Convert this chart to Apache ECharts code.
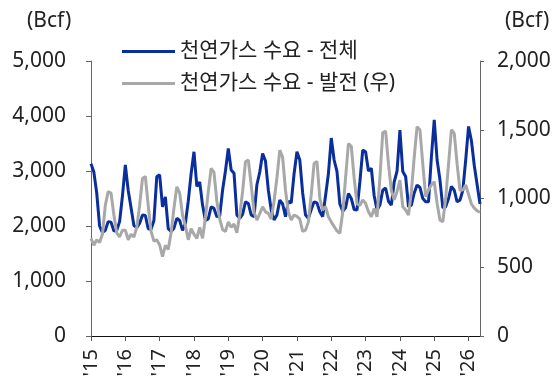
<!DOCTYPE html>
<html>
<head>
<meta charset="utf-8">
<script src="https://cdn.jsdelivr.net/npm/echarts@6/dist/echarts.min.js"></script>
<style>
  html, body { margin: 0; padding: 0; background: #fff; }
  #chart { width: 559px; height: 383px; }
</style>
</head>
<body>
<div id="chart"></div>
<script>
// Monthly U.S. natural gas consumption, Jan 2015 - May 2026 (Bcf)
const startYear = 2015;
const yearTicks = ["'15", "'16", "'17", "'18", "'19", "'20", "'21", "'22", "'23", "'24", "'25", "'26"];

// Total consumption (left axis)
const totalDemand = [
  3130, 2980, 2600, 2000, 1880, 1920, 2080, 2070, 1910, 1920, 2080, 2550,
  3110, 2650, 2330, 2010, 1970, 2050, 2200, 2190, 1950, 1940, 2100, 2900,
  2930, 2350, 2530, 1950, 1900, 1960, 2140, 2100, 1920, 2050, 2450, 2950,
  3350, 2720, 2800, 2380, 2100, 2130, 2350, 2320, 2170, 2180, 2650, 3000,
  3410, 3020, 2960, 2200, 2140, 2210, 2440, 2410, 2200, 2170, 2750, 2980,
  3320, 3180, 2650, 2290, 2110, 2200, 2470, 2400, 2170, 2450, 2420, 2950,
  3350, 3200, 2600, 2200, 2140, 2300, 2440, 2420, 2260, 2170, 2550, 2950,
  3600, 3200, 2990, 2400, 2270, 2330, 2590, 2500, 2300, 2290, 2800, 3380,
  3350, 3000, 3050, 2550, 2290, 2380, 2650, 2690, 2450, 2380, 2800, 3000,
  3745, 2990, 2900, 2350, 2380, 2600, 2745, 2700, 2500, 2440, 2440, 3250,
  3930, 3200, 2840, 2330, 2350, 2500, 2720, 2650, 2440, 2470, 2650, 3200,
  3810, 3550, 3100, 2750, 2400
];

// Power-sector consumption (right axis)
const powerDemand = [
  710, 660, 700, 680, 740, 950, 1050, 1040, 880, 750, 720, 770,
  770, 700, 740, 720, 790, 950, 1146, 1160, 950, 760, 690, 700,
  662, 577, 660, 630, 750, 930, 1085, 1040, 880, 800, 700, 780,
  740, 710, 790, 710, 860, 1050, 1219, 1190, 980, 850, 775, 760,
  830, 790, 815, 750, 880, 1050, 1267, 1280, 1100, 900, 843, 890,
  940, 903, 892, 850, 980, 1150, 1352, 1300, 1060, 900, 843, 880,
  870, 850, 760, 770, 830, 1030, 1255, 1270, 1000, 916, 940, 867,
  830, 795, 765, 747, 900, 1150, 1400, 1380, 1150, 960, 950, 989,
  965, 903, 867, 928, 867, 1150, 1480, 1490, 1250, 1060, 990, 1050,
  1134, 940, 916, 880, 1050, 1300, 1522, 1500, 1250, 1013, 1062, 1100,
  1122, 965, 843, 831, 1000, 1250, 1500, 1474, 1250, 1060, 1062, 1098,
  1030, 960, 930, 910, 900
];

const seriesNames = ['천연가스 수요 - 전체', '천연가스 수요 - 발전 (우)'];

// One category per month
const months = totalDemand.map((_, i) => {
  const y = startYear + Math.floor(i / 12);
  const m = (i % 12) + 1;
  return y + '-' + (m < 10 ? '0' + m : m);
});

const FONT = "'Noto Sans', 'Noto Sans CJK KR', sans-serif";
const TEXT = '#222';
const fmt = v => v.toLocaleString('en-US');

const chart = echarts.init(document.getElementById('chart'), null, { renderer: 'canvas' });
chart.setOption({
  animation: false,
  backgroundColor: '#fff',
  textStyle: { fontFamily: FONT },
  grid: { left: 91, right: 79, top: 61, bottom: 47 },
  legend: {
    orient: 'vertical',
    left: 122,
    top: 41,
    padding: 0,
    itemGap: 11,
    itemWidth: 53,
    itemHeight: 3,
    icon: 'rect',
    textStyle: { fontFamily: FONT, fontSize: 21, color: TEXT, lineHeight: 21 },
    data: seriesNames
  },
  graphic: [
    { type: 'text', left: 27, top: 11, style: { text: '(Bcf)', font: '21px ' + FONT, fill: TEXT } },
    { type: 'text', left: 505, top: 11, style: { text: '(Bcf)', font: '21px ' + FONT, fill: TEXT } }
  ],
  xAxis: {
    type: 'category',
    data: months,
    boundaryGap: false,
    axisLine: { lineStyle: { color: '#111', width: 1 } },
    axisTick: {
      length: 5,
      interval: i => i % 12 === 0,
      lineStyle: { color: '#555' }
    },
    axisLabel: {
      interval: i => i % 12 === 0,
      rotate: 90,
      margin: 13,
      fontSize: 20,
      fontFamily: FONT,
      color: TEXT,
      formatter: (v, i) => yearTicks[Math.floor(i / 12)]
    },
    splitLine: { show: false }
  },
  yAxis: [
    {
      type: 'value',
      min: 0, max: 5000, interval: 1000,
      axisLine: { show: true, lineStyle: { color: '#666', width: 1 } },
      axisTick: { show: true, length: 5, lineStyle: { color: '#666' } },
      axisLabel: { fontSize: 21, color: TEXT, margin: 25, fontFamily: FONT, formatter: fmt },
      splitLine: { show: false }
    },
    {
      type: 'value',
      min: 0, max: 2000, interval: 500,
      position: 'right',
      axisLine: { show: true, lineStyle: { color: '#666', width: 1 } },
      axisTick: { show: true, length: 4, lineStyle: { color: '#666' } },
      axisLabel: { fontSize: 21, color: TEXT, margin: 17, fontFamily: FONT, formatter: fmt },
      splitLine: { show: false }
    }
  ],
  series: [
    {
      name: seriesNames[0],
      type: 'line',
      yAxisIndex: 0,
      data: totalDemand,
      showSymbol: false,
      smooth: false,
      color: '#0A2F9C',
      lineStyle: { width: 3, color: '#0A2F9C' }
    },
    {
      name: seriesNames[1],
      type: 'line',
      yAxisIndex: 1,
      data: powerDemand,
      showSymbol: false,
      smooth: false,
      color: '#A8A8A8',
      lineStyle: { width: 3, color: '#A8A8A8' }
    }
  ]
});
</script>
</body>
</html>
